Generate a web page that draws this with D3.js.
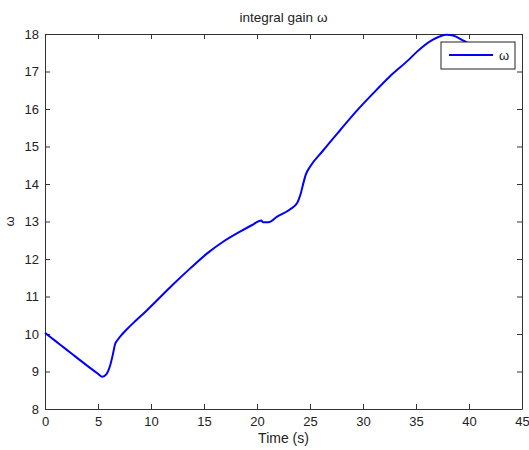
<!DOCTYPE html>
<html>
<head>
<meta charset="utf-8">
<script src="https://cdn.jsdelivr.net/npm/d3@7"></script>
<style>
  body { margin: 0; background: #fff; }
  svg text { font-family: "Liberation Sans", Arial, sans-serif; fill: #222; }
</style>
</head>
<body>
<div id="chart"></div>
<script>
// data
const time = [0, 1, 2, 3, 4, 5, 5.4, 5.8, 6.1, 6.4, 6.6, 6.9, 7.3, 7.7, 8.5, 9.5, 10.5, 12, 13.7, 15.3, 16.8, 18.4, 19.5, 20.4, 20.55, 21.1, 21.9, 23.1, 23.8, 24.1, 24.4, 24.6, 25, 26.2, 27.8, 29.4, 31, 32.5, 34.3, 35.1, 36.6, 37.9, 38.5, 39.5, 40];
const omega = [10.03, 9.81, 9.59, 9.37, 9.15, 8.94, 8.86, 8.93, 9.12, 9.45, 9.72, 9.86, 10.0, 10.12, 10.34, 10.6, 10.88, 11.3, 11.75, 12.15, 12.46, 12.73, 12.9, 13.03, 12.98, 12.98, 13.13, 13.32, 13.5, 13.72, 14.05, 14.25, 14.46, 14.88, 15.42, 15.95, 16.43, 16.86, 17.31, 17.53, 17.85, 17.98, 17.96, 17.82, 17.75];
const xTicks = [0, 5, 10, 15, 20, 25, 30, 35, 40, 45];
const yTicks = [8, 9, 10, 11, 12, 13, 14, 15, 16, 17, 18];
const titleText = "integral gain \u03c9";
const xLabel = "Time (s)";
const yLabel = "\u03c9";
const legendLabel = "\u03c9";

const W = 529, H = 450;
const margin = {top: 34, right: 7, bottom: 41, left: 45};
const width = W - margin.left - margin.right;
const height = H - margin.top - margin.bottom;

const svg = d3.select("#chart").append("svg")
    .attr("width", W)
    .attr("height", H);

const g = svg.append("g")
    .attr("transform", "translate(" + margin.left + "," + margin.top + ")");

const xScale = d3.scaleLinear().domain([0, 45]).range([0, width]);
const yScale = d3.scaleLinear().domain([8, 18]).range([height, 0]);

const tickLen = 5;
const axisColor = "#333";

// axes with inward ticks, mirrored on top and right
const xAxis = g.append("g")
    .attr("transform", "translate(0," + height + ")")
    .call(d3.axisBottom(xScale).tickValues(xTicks).tickSizeInner(-tickLen).tickSizeOuter(0).tickPadding(8));
const xTop = g.append("g")
    .call(d3.axisTop(xScale).tickValues(xTicks).tickSizeInner(-tickLen).tickSizeOuter(0).tickFormat(""));
const yAxis = g.append("g")
    .call(d3.axisLeft(yScale).tickValues(yTicks).tickSizeInner(-tickLen).tickSizeOuter(0).tickPadding(6));
const yRight = g.append("g")
    .attr("transform", "translate(" + width + ",0)")
    .call(d3.axisRight(yScale).tickValues(yTicks).tickSizeInner(-tickLen).tickSizeOuter(0).tickFormat(""));

[xAxis, xTop, yAxis, yRight].forEach(a => {
    a.selectAll("path").attr("stroke", axisColor);
    a.selectAll("line").attr("stroke", axisColor);
    a.selectAll("text").style("font-size", "13px").attr("fill", "#222");
});

// the curve
const line = d3.line()
    .x((d, i) => xScale(time[i]))
    .y(d => yScale(d))
    .curve(d3.curveMonotoneX);

g.append("path")
    .datum(omega)
    .attr("fill", "none")
    .attr("stroke", "#0000ff")
    .attr("stroke-width", 2)
    .attr("stroke-linejoin", "round")
    .attr("d", line);

// labels
svg.append("text")
    .attr("x", margin.left + width / 2)
    .attr("y", 22)
    .attr("text-anchor", "middle")
    .style("font-size", "13.5px")
    .text(titleText);

svg.append("text")
    .attr("x", margin.left + width / 2)
    .attr("y", 443)
    .attr("text-anchor", "middle")
    .style("font-size", "14px")
    .text(xLabel);

svg.append("text")
    .attr("transform", "translate(14," + (margin.top + height / 2) + ") rotate(-90)")
    .attr("text-anchor", "middle")
    .style("font-size", "13px")
    .text(yLabel);

// legend
const legend = svg.append("g").attr("transform", "translate(441,42)");
legend.append("rect")
    .attr("width", 74).attr("height", 27)
    .attr("fill", "#fff").attr("stroke", "#222").attr("stroke-width", 1);
legend.append("line")
    .attr("x1", 8).attr("x2", 52).attr("y1", 13).attr("y2", 13)
    .attr("stroke", "#0000ff").attr("stroke-width", 2);
legend.append("text")
    .attr("x", 58).attr("y", 18)
    .style("font-size", "13px")
    .text(legendLabel);
</script>
</body>
</html>
